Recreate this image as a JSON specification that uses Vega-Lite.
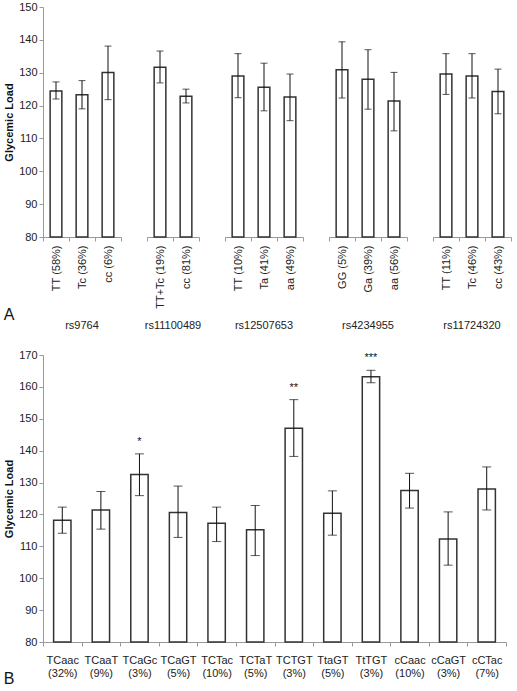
{
  "$schema": "https://vega.github.io/schema/vega-lite/v6.json",
  "padding": {"left": 3, "top": 1, "right": 2, "bottom": 0},
  "spacing": 18,
  "config": {
    "font": "Liberation Sans",
    "view": {"stroke": null},
    "axis": {"labelFont": "Liberation Sans", "titleFont": "Liberation Sans", "labelFontSize": 11, "labelColor": "#222", "domainColor": "#999", "tickColor": "#999", "grid": false, "titleFontSize": 11, "titleFontWeight": "bold", "titleColor": "#111", "tickSize": 4},
    "header": {"labelFont": "Liberation Sans", "labelOrient": "bottom", "labelFontSize": 11, "labelColor": "#222", "titleFontSize": 1},
    "title": {"font": "Liberation Sans"},
    "text": {"font": "Liberation Sans"}
  },
  "vconcat": [
    {
      "data": {"values": [
        {"group": "rs9764", "geno": "TT (58%)", "mean": 124.4, "lo": 122.0, "hi": 127.2},
        {"group": "rs9764", "geno": "Tc (36%)", "mean": 123.3, "lo": 119.0, "hi": 127.6},
        {"group": "rs9764", "geno": "cc (6%)", "mean": 130.1, "lo": 121.8, "hi": 138.1},
        {"group": "rs11100489", "geno": "TT+Tc (19%)", "mean": 131.7, "lo": 126.9, "hi": 136.6},
        {"group": "rs11100489", "geno": "cc (81%)", "mean": 122.8, "lo": 120.8, "hi": 125.0},
        {"group": "rs12507653", "geno": "TT (10%)", "mean": 129.0, "lo": 122.4, "hi": 135.8},
        {"group": "rs12507653", "geno": "Ta (41%)", "mean": 125.6, "lo": 118.4, "hi": 132.9},
        {"group": "rs12507653", "geno": "aa (49%)", "mean": 122.6, "lo": 115.4, "hi": 129.6},
        {"group": "rs4234955", "geno": "GG (5%)", "mean": 130.9, "lo": 122.3, "hi": 139.4},
        {"group": "rs4234955", "geno": "Ga (39%)", "mean": 128.0, "lo": 118.9, "hi": 137.0},
        {"group": "rs4234955", "geno": "aa (56%)", "mean": 121.4, "lo": 112.3, "hi": 130.1},
        {"group": "rs11724320", "geno": "TT (11%)", "mean": 129.6, "lo": 123.4, "hi": 135.8},
        {"group": "rs11724320", "geno": "Tc (46%)", "mean": 129.0, "lo": 122.3, "hi": 135.8},
        {"group": "rs11724320", "geno": "cc (43%)", "mean": 124.3, "lo": 117.5, "hi": 131.1}
      ]},
      "title": {"text": "A", "orient": "bottom", "anchor": "start", "frame": "bounds", "fontSize": 16, "fontWeight": "normal", "color": "#111", "offset": -24},
      "bounds": "flush",
      "facet": {"column": {"field": "group", "type": "nominal", "sort": ["rs9764", "rs11100489", "rs12507653", "rs4234955", "rs11724320"], "title": null, "header": {"labelPadding": 83}}},
      "spacing": {"column": 26},
      "resolve": {"scale": {"x": "independent"}},
      "spec": {
        "width": {"step": 26},
        "height": 230,
        "encoding": {
          "x": {"field": "geno", "type": "nominal", "sort": null, "title": null,
                "scale": {"paddingInner": 0, "paddingOuter": 0},
                "axis": {"labelAngle": -90, "tickBand": "extent", "labelPadding": 4}}
        },
        "layer": [
          {"mark": {"type": "bar", "fill": "white", "stroke": "#333", "strokeWidth": 1.5, "width": {"band": 0.45}},
           "encoding": {"y": {"field": "mean", "type": "quantitative", "title": "Glycemic Load",
                              "scale": {"domain": [80, 150], "zero": false, "nice": false},
                              "axis": {"values": [80, 90, 100, 110, 120, 130, 140, 150]}},
                        "y2": {"datum": 80}}},
          {"mark": {"type": "errorbar", "color": "#111", "ticks": {"size": 7, "color": "#111"}, "rule": {"strokeWidth": 1}},
           "encoding": {"y": {"field": "lo", "type": "quantitative", "title": "Glycemic Load",
                              "axis": {"values": [80, 90, 100, 110, 120, 130, 140, 150]}}, "y2": {"field": "hi"}}}
        ]
      }
    },
    {
      "data": {"values": [
        {"hap": "TCaac (32%)", "mean": 118.2, "lo": 114.1, "hi": 122.3, "sig": ""},
        {"hap": "TCaaT (9%)", "mean": 121.4, "lo": 115.4, "hi": 127.2, "sig": ""},
        {"hap": "TCaGc (3%)", "mean": 132.5, "lo": 125.9, "hi": 139.0, "sig": "*"},
        {"hap": "TCaGT (5%)", "mean": 120.6, "lo": 112.8, "hi": 128.9, "sig": ""},
        {"hap": "TCTac (10%)", "mean": 117.2, "lo": 111.5, "hi": 122.3, "sig": ""},
        {"hap": "TCTaT (5%)", "mean": 115.2, "lo": 107.1, "hi": 122.8, "sig": ""},
        {"hap": "TCTGT (3%)", "mean": 147.0, "lo": 138.2, "hi": 156.0, "sig": "**"},
        {"hap": "TtaGT (5%)", "mean": 120.4, "lo": 113.5, "hi": 127.4, "sig": ""},
        {"hap": "TtTGT (3%)", "mean": 163.2, "lo": 161.3, "hi": 165.2, "sig": "***"},
        {"hap": "cCaac (10%)", "mean": 127.5, "lo": 122.0, "hi": 132.9, "sig": ""},
        {"hap": "cCaGT (3%)", "mean": 112.3, "lo": 104.1, "hi": 120.8, "sig": ""},
        {"hap": "cCTac (7%)", "mean": 128.0, "lo": 121.4, "hi": 134.9, "sig": ""}
      ]},
      "title": {"text": "B", "orient": "bottom", "anchor": "start", "frame": "bounds", "fontSize": 16, "fontWeight": "normal", "color": "#111", "offset": -7},
      "width": 463,
      "height": 287,
      "encoding": {
        "x": {"field": "hap", "type": "nominal", "sort": null, "title": null,
              "scale": {"paddingInner": 0, "paddingOuter": 0},
              "axis": {"labelAngle": 0, "tickBand": "extent", "labelPadding": 8, "labelExpr": "split(datum.label, ' ')", "labelLineHeight": 13}}
      },
      "layer": [
        {"mark": {"type": "bar", "fill": "white", "stroke": "#333", "strokeWidth": 1.5, "width": {"band": 0.45}},
         "encoding": {"y": {"field": "mean", "type": "quantitative", "title": "Glycemic Load",
                            "scale": {"domain": [80, 170], "zero": false, "nice": false},
                            "axis": {"values": [80, 90, 100, 110, 120, 130, 140, 150, 160, 170]}},
                      "y2": {"datum": 80}}},
        {"mark": {"type": "errorbar", "color": "#111", "ticks": {"size": 9, "color": "#111"}, "rule": {"strokeWidth": 1}},
         "encoding": {"y": {"field": "lo", "type": "quantitative", "title": "Glycemic Load",
                            "axis": {"values": [80, 90, 100, 110, 120, 130, 140, 150, 160, 170]}}, "y2": {"field": "hi"}}},
        {"mark": {"type": "text", "fontSize": 11, "dy": -12, "color": "#111"},
         "encoding": {"y": {"field": "hi", "type": "quantitative", "title": "Glycemic Load",
                            "axis": {"values": [80, 90, 100, 110, 120, 130, 140, 150, 160, 170]}}, "text": {"field": "sig"}}}
      ]
    }
  ]
}
